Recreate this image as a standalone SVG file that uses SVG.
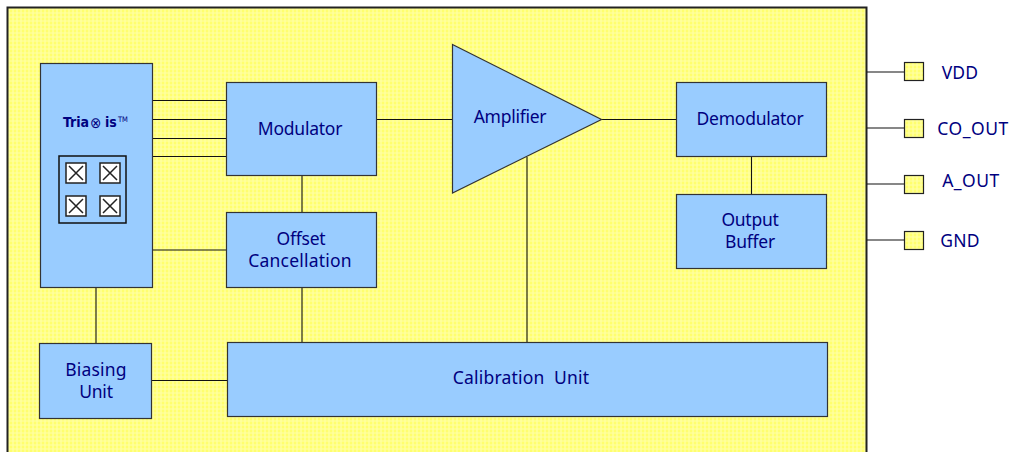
<svg xmlns="http://www.w3.org/2000/svg" width="1010" height="452" viewBox="0 0 1010 452">
<style>
.b{fill:#99ccff;stroke:#333;stroke-width:1.2}
.p{fill:url(#y);stroke:#222;stroke-width:1.2}
.t{font-family:"Noto Sans","DejaVu Sans",sans-serif;font-size:17.5px;letter-spacing:-.25px;fill:#000080;text-anchor:middle}
.w{letter-spacing:.2px}
.m{font-family:"DejaVu Sans Condensed","DejaVu Sans",sans-serif;font-weight:bold;fill:#000080}
.l{fill:none;stroke:#111;stroke-width:1.1}
.c{fill:#fff;stroke:#222;stroke-width:1.5}
</style>
<defs>
<pattern id="y" width="4" height="4" patternUnits="userSpaceOnUse">
<rect width="4" height="4" fill="#ffff6e"/>
<path d="M0 1H4M1 0V4" stroke="#ffffa6" stroke-width="1.200"/>
</pattern>
</defs>
<rect id="chip" x="7.500" y="7.500" width="859" height="450" fill="url(#y)" stroke="#222" stroke-width="2"/>
<g id="connectors" class="l">
<path d="M152 100.500H226M152 119.500H226M152 138.500H226M152 156.500H226M152 250H226M96 287V343M302 175V212M302 287V342M377 119.500H452M527 157V342M602 119.500H676M751.500 156V194M152 380.500H227"/>
<path d="M867 72H904M867 128H904M867 184H904M867 240H904"/>
</g>
<g id="triaxis">
<rect class="b" x="40.500" y="63.500" width="112" height="224"/>
<text class="m" x="63" y="127" font-size="14">Tria</text>
<text class="m" x="90" y="128" font-size="15" style="font-weight:normal">⊗</text>
<text class="m" x="105" y="127" font-size="14">is</text>
<text class="m" x="118" y="122" font-size="7.500" style="font-weight:normal">TM</text>
<rect x="59" y="156" width="67" height="67" fill="none" stroke="#111" stroke-width="1.500"/>
<g class="c"><rect x="66" y="163" width="20" height="20"/><path d="M69 166L83 180M83 166L69 180"/>
<rect x="100" y="163" width="20" height="20"/><path d="M103 166L117 180M117 166L103 180"/>
<rect x="66" y="196" width="20" height="20"/><path d="M69 199L83 213M83 199L69 213"/>
<rect x="100" y="196" width="20" height="20"/><path d="M103 199L117 213M117 199L103 213"/></g>
</g>
<g id="modulator"><rect class="b" x="226.500" y="82.500" width="150" height="93"/><text class="t" x="300" y="135">Modulator</text></g>
<g id="offset"><rect class="b" x="226.500" y="212.500" width="150" height="75"/><text class="t" x="301" y="245">Offset</text><text class="t w" x="300" y="267">Cancellation</text></g>
<g id="amplifier"><polygon class="b" points="452.500,44.500 601.500,119.500 452.500,193"/><text class="t" x="510" y="123">Amplifier</text></g>
<g id="demodulator"><rect class="b" x="676.500" y="82.500" width="150" height="74"/><text class="t" x="750" y="125">Demodulator</text></g>
<g id="buffer"><rect class="b" x="676.500" y="194.500" width="150" height="74"/><text class="t" x="750" y="226">Output</text><text class="t" x="750" y="248">Buffer</text></g>
<g id="biasing"><rect class="b" x="39.500" y="343.500" width="112" height="75"/><text class="t w" x="96" y="376">Biasing</text><text class="t" x="96" y="398">Unit</text></g>
<g id="calibration"><rect class="b" x="227.500" y="342.500" width="600" height="74"/><text class="t w" x="521" y="384" xml:space="preserve">Calibration  Unit</text></g>
<g id="vdd"><rect class="p" x="904.500" y="62.500" width="19" height="18"/><text class="t w" x="960" y="79">VDD</text></g>
<g id="co_out"><rect class="p" x="904.500" y="119.500" width="19" height="18"/><text class="t w" x="973" y="135" style="letter-spacing:.5px">CO_OUT</text></g>
<g id="a_out"><rect class="p" x="904.500" y="175.500" width="19" height="18"/><text class="t w" x="971" y="187" style="letter-spacing:.5px">A_OUT</text></g>
<g id="gnd"><rect class="p" x="904.500" y="231.500" width="19" height="18"/><text class="t w" x="960" y="247">GND</text></g>
</svg>
